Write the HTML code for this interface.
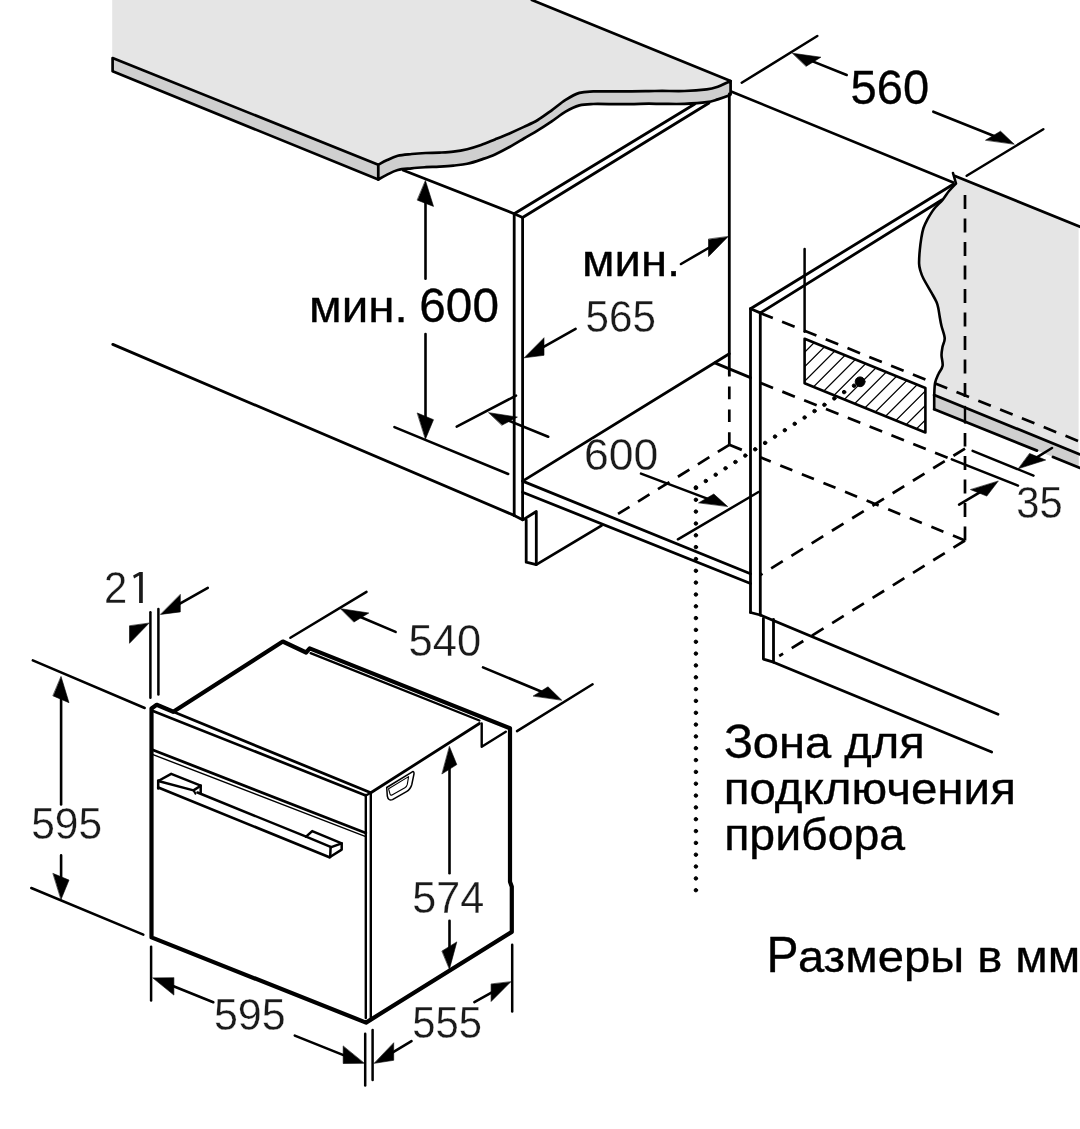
<!DOCTYPE html>
<html><head><meta charset="utf-8"><style>
html,body{margin:0;padding:0;background:#fff;width:1080px;height:1129px;overflow:hidden}
svg{display:block;filter:grayscale(100%)}
text{font-family:"Liberation Sans", sans-serif;fill:#000;stroke:#000;stroke-width:0.35px}
text.m{fill:#1a1a1a;stroke:#fff;stroke-width:0.3px;paint-order:fill}
</style></head><body>
<svg width="1080" height="1129" viewBox="0 0 1080 1129" stroke="#000" stroke-linecap="round" stroke-linejoin="round" fill="#000">
<path d="M112.2,0 L112.2,58 L378.3,164.7 C379.7,164 383.4,161.8 386.7,160.3 C389.9,158.8 393.6,156.9 397.8,155.8 C402,154.8 407.1,154.5 411.7,154 C416.3,153.5 421,153.2 425.6,153 C430.2,152.8 434.8,152.8 439.4,152.6 C444,152.4 448.7,152.3 453.3,151.7 C457.9,151.1 462.6,150.3 467.2,149.2 C471.8,148.1 476.5,146.6 481.1,145 C485.7,143.4 490.3,141.3 495,139.4 C499.7,137.5 504.7,135.5 509.5,133.4 C514.3,131.3 519.2,129.1 523.9,126.9 C528.6,124.7 533.2,122.8 537.8,120 C542.4,117.2 547.1,113.6 551.7,110.3 C556.3,107 561,102.8 565.6,99.9 C570.2,97 574.8,94.3 579.4,92.9 C584,91.5 586.3,91.7 593.3,91.4 C600.2,91.2 611.8,91.5 621.1,91.4 C630.4,91.4 642,91.2 648.9,91.1 C655.8,91 656.3,90.9 662.2,90.9 C668.1,90.9 677,91.2 684.4,91 C691.8,90.8 701.1,90.1 706.7,89.4 C712.3,88.7 714.3,87.9 717.8,86.7 C721.3,85.5 725.7,83.1 727.8,82.2 C729.9,81.3 730.1,81.3 730.6,81.1 L531.9,0 Z" fill="#e5e5e5" stroke="none"/>
<path d="M112.6,58 L378.3,164.7 L378.3,179.5 L112.6,71.3Z" stroke-width="2.7" fill="#cfcfcf" />
<path d="M378.3,164.7 C379.7,164 383.4,161.8 386.7,160.3 C389.9,158.8 393.6,156.9 397.8,155.8 C402,154.8 407.1,154.5 411.7,154 C416.3,153.5 421,153.2 425.6,153 C430.2,152.8 434.8,152.8 439.4,152.6 C444,152.4 448.7,152.3 453.3,151.7 C457.9,151.1 462.6,150.3 467.2,149.2 C471.8,148.1 476.5,146.6 481.1,145 C485.7,143.4 490.3,141.3 495,139.4 C499.7,137.5 504.7,135.5 509.5,133.4 C514.3,131.3 519.2,129.1 523.9,126.9 C528.6,124.7 533.2,122.8 537.8,120 C542.4,117.2 547.1,113.6 551.7,110.3 C556.3,107 561,102.8 565.6,99.9 C570.2,97 574.8,94.3 579.4,92.9 C584,91.5 586.3,91.7 593.3,91.4 C600.2,91.2 611.8,91.5 621.1,91.4 C630.4,91.4 642,91.2 648.9,91.1 C655.8,91 656.3,90.9 662.2,90.9 C668.1,90.9 677,91.2 684.4,91 C691.8,90.8 701.1,90.1 706.7,89.4 C712.3,88.7 714.3,87.9 717.8,86.7 C721.3,85.5 725.7,83.1 727.8,82.2 C729.9,81.3 730.1,81.3 730.6,81.1 L730.6,94.4 C730.3,94.6 731,94.8 728.9,95.6 C726.8,96.4 721.5,98.3 717.8,99.4 C714.1,100.5 712.3,101.5 706.7,102.2 C701.1,103 691.8,103.6 684.4,103.9 C677,104.2 668.1,103.9 662.2,103.9 C656.3,103.9 655.8,103.7 648.9,103.7 C642,103.8 630.4,104.2 621.1,104.2 C611.8,104.2 600.2,103.8 593.3,104 C586.3,104.2 584,104.1 579.4,105.4 C574.8,106.7 570.2,109 565.6,111.7 C561,114.4 556.3,118.3 551.7,121.4 C547.1,124.5 542.4,127.6 537.8,130.4 C533.2,133.2 528.6,135.7 523.9,138.5 C519.2,141.3 514.3,144.3 509.5,147 C504.7,149.7 499.7,152.3 495,154.4 C490.3,156.5 485.7,158 481.1,159.6 C476.5,161.2 471.8,162.8 467.2,163.8 C462.6,164.8 457.9,165.1 453.3,165.6 C448.7,166.1 444,166.4 439.4,166.7 C434.8,167 430.2,166.9 425.6,167.2 C421,167.5 416.3,167.8 411.7,168.3 C407.1,168.8 402,168.9 397.8,170 C393.6,171.1 389.9,173.3 386.7,174.9 C383.4,176.5 379.7,178.7 378.3,179.5 Z" fill="#cfcfcf" stroke-width="2.7" stroke-linejoin="round"/>
<line x1="531.9" y1="0" x2="730.6" y2="81" stroke-width="2.7" />
<line x1="403.3" y1="170.3" x2="514.2" y2="213.7" stroke-width="2.8" />
<path d="M514.2,213.7 L514.2,515.4" stroke-width="2.8" fill="none" />
<path d="M522.6,217.5 L522.6,519.8" stroke-width="2.8" fill="none" />
<line x1="514.2" y1="213.7" x2="522.6" y2="217.5" stroke-width="2.8" />
<line x1="514.2" y1="515.4" x2="522.6" y2="519.8" stroke-width="2.8" />
<line x1="514.2" y1="213.7" x2="694.8" y2="104" stroke-width="2.8" />
<line x1="522.6" y1="217.5" x2="709" y2="103" stroke-width="2.8" />
<line x1="729.3" y1="94" x2="729.3" y2="374.7" stroke-width="2.8" />
<line x1="729.3" y1="444.8" x2="729.3" y2="374.7" stroke-width="2.7" stroke-dasharray="12.6,10.2" stroke-dashoffset="0" stroke-linecap="butt"/>
<line x1="522.6" y1="481.1" x2="729.3" y2="353.8" stroke-width="2.8" />
<line x1="522.6" y1="481.1" x2="750.5" y2="573.8" stroke-width="2.8" />
<line x1="522.6" y1="492.2" x2="750.5" y2="583.5" stroke-width="2.8" />
<line x1="714.8" y1="362.9" x2="750.5" y2="377.6" stroke-width="2.8" />
<path d="M523.3,519.6 L536.3,511.5 L536.3,564.6 L526.2,562.2 L526.2,520" stroke-width="2.8" fill="none" />
<line x1="536.3" y1="564.6" x2="601.5" y2="525.6" stroke-width="2.8" />
<line x1="112.8" y1="344.4" x2="514.2" y2="515.4" stroke-width="2.8" />
<path d="M750.5,308.8 L750.5,612.5" stroke-width="2.8" fill="none" />
<path d="M760.3,312.9 L760.3,615" stroke-width="2.8" fill="none" />
<line x1="750.5" y1="308.8" x2="760.3" y2="312.9" stroke-width="2.8" />
<line x1="750.5" y1="308.8" x2="953.3" y2="184.2" stroke-width="2.8" />
<line x1="760.3" y1="312.9" x2="941.7" y2="200" stroke-width="2.8" />
<line x1="750.5" y1="612.5" x2="760.3" y2="615" stroke-width="2.8" />
<line x1="760.3" y1="615" x2="998" y2="714.2" stroke-width="2.8" />
<path d="M763.4,618.5 L763.4,659.1 L773.5,662.2 L773.5,619.5" stroke-width="2.8" fill="none" />
<line x1="773.5" y1="662.2" x2="991.7" y2="752" stroke-width="2.8" />
<line x1="804.6" y1="249" x2="804.6" y2="331.8" stroke-width="2.5" />
<clipPath id="hz"><path d="M804.6,338.75 L925.4,388 L925.4,432.5 L804.6,383.2Z"/></clipPath>
<path d="M615.3,440 L725.3,330 M629.8,440 L739.8,330 M644.3,440 L754.3,330 M658.8,440 L768.8,330 M673.3,440 L783.3,330 M687.8,440 L797.8,330 M702.3,440 L812.3,330 M716.8,440 L826.8,330 M731.3,440 L841.3,330 M745.8,440 L855.8,330 M760.3,440 L870.3,330 M774.8,440 L884.8,330 M789.3,440 L899.3,330 M803.8,440 L913.8,330 M818.3,440 L928.3,330 M832.8,440 L942.8,330 M847.3,440 L957.3,330 M861.8,440 L971.8,330 M876.3,440 L986.3,330 M890.8,440 L1000.8,330 M905.3,440 L1015.3,330 M919.8,440 L1029.8,330 M934.3,440 L1044.3,330 M948.8,440 L1058.8,330 M963.3,440 L1073.3,330 M977.8,440 L1087.8,330 M992.3,440 L1102.3,330 M1006.8,440 L1116.8,330" stroke-width="1.25" clip-path="url(#hz)"/>
<path d="M804.6,338.8 L925.4,388 L925.4,432.5 L804.6,383.2Z" stroke-width="2.6" fill="none" />
<circle cx="860.1" cy="381.8" r="4.9"/>
<path d="M953,173 L956,183.5 C954.8,184.8 951.2,188.3 949,191 C946.8,193.7 945.1,196.8 942.6,199.8 C940.1,202.8 936.5,205.8 934,209 C931.5,212.2 929.5,215.7 927.7,218.9 C926,222.1 924.6,224.8 923.5,228 C922.4,231.2 921.9,234.4 921.3,238.1 C920.7,241.8 920.2,245.8 919.8,250 C919.4,254.2 919,260.1 919.1,263.6 C919.2,267.1 919.8,268.5 920.5,271 C921.2,273.5 921.5,274.8 923.4,278.5 C925.3,282.2 929.7,289.5 931.9,293.4 C934.1,297.3 935.4,299.5 936.5,302 C937.6,304.5 937.8,306 938.3,308.3 C938.8,310.6 939.1,313.1 939.6,316 C940.1,318.9 940.6,322.3 941.5,326 C942.4,329.7 944.5,334.7 944.7,338.1 C944.9,341.5 943.1,343.8 942.6,346.6 C942.1,349.4 941.5,351.9 941.5,355.1 C941.5,358.3 943.1,362.5 942.6,365.7 C942.1,368.9 939.5,371.4 938.3,374.3 C937,377.2 935.8,379.4 935.1,382.8 C934.4,386.2 934.4,393 934.2,395 L934.2,409.2 L1078.6,467.3 L1078.6,226.1 L955,176 Z" fill="#e5e5e5" stroke="none"/>
<path d="M934.2,395 L1078.6,453.8 L1078.6,467.3 L934.2,409.2 Z" fill="#cfcfcf" stroke="none"/>
<path d="M953,173 L956,183.5 C954.8,184.8 951.2,188.3 949,191 C946.8,193.7 945.1,196.8 942.6,199.8 C940.1,202.8 936.5,205.8 934,209 C931.5,212.2 929.5,215.7 927.7,218.9 C926,222.1 924.6,224.8 923.5,228 C922.4,231.2 921.9,234.4 921.3,238.1 C920.7,241.8 920.2,245.8 919.8,250 C919.4,254.2 919,260.1 919.1,263.6 C919.2,267.1 919.8,268.5 920.5,271 C921.2,273.5 921.5,274.8 923.4,278.5 C925.3,282.2 929.7,289.5 931.9,293.4 C934.1,297.3 935.4,299.5 936.5,302 C937.6,304.5 937.8,306 938.3,308.3 C938.8,310.6 939.1,313.1 939.6,316 C940.1,318.9 940.6,322.3 941.5,326 C942.4,329.7 944.5,334.7 944.7,338.1 C944.9,341.5 943.1,343.8 942.6,346.6 C942.1,349.4 941.5,351.9 941.5,355.1 C941.5,358.3 943.1,362.5 942.6,365.7 C942.1,368.9 939.5,371.4 938.3,374.3 C937,377.2 935.8,379.4 935.1,382.8 C934.4,386.2 934.4,393 934.2,395" fill="none" stroke-width="2.6" stroke-linejoin="round"/>
<line x1="955" y1="176" x2="1080" y2="226.7" stroke-width="2.8" />
<line x1="934.2" y1="395" x2="1080" y2="454.4" stroke-width="2.8" />
<line x1="934.2" y1="395" x2="934.2" y2="409.2" stroke-width="2.6" />
<line x1="934.2" y1="409.2" x2="1037" y2="450.6" stroke-width="2.8" />
<line x1="1053" y1="457" x2="1080" y2="467.9" stroke-width="2.8" />
<line x1="965" y1="407" x2="965" y2="422.5" stroke-width="2.4" />
<line x1="760.3" y1="313" x2="1080" y2="441.7" stroke-width="2.7" stroke-dasharray="13.5,10" stroke-dashoffset="0" stroke-linecap="butt"/>
<line x1="760.5" y1="382.9" x2="951.8" y2="459.4" stroke-width="2.7" stroke-dasharray="13.5,10" stroke-dashoffset="0" stroke-linecap="butt"/>
<line x1="951.8" y1="459.4" x2="1018" y2="485.6" stroke-width="2.5" />
<line x1="729.3" y1="444.8" x2="750.5" y2="453.4" stroke-width="2.7" stroke-dasharray="13.5,10" stroke-dashoffset="0" stroke-linecap="butt"/>
<line x1="965" y1="540.5" x2="760.3" y2="457.3" stroke-width="2.7" stroke-dasharray="13,10.3" stroke-dashoffset="0" stroke-linecap="butt"/>
<line x1="729.3" y1="444.8" x2="618" y2="514" stroke-width="2.7" stroke-dasharray="13.5,10" stroke-dashoffset="0" stroke-linecap="butt"/>
<line x1="965" y1="448.6" x2="760.3" y2="575" stroke-width="2.7" stroke-dasharray="13.6,10.2" stroke-dashoffset="0" stroke-linecap="butt"/>
<line x1="965" y1="540.5" x2="779.2" y2="656" stroke-width="2.7" stroke-dasharray="13.6,10.2" stroke-dashoffset="0" stroke-linecap="butt"/>
<line x1="965" y1="195" x2="965" y2="405" stroke-width="2.7" stroke-dasharray="14,9.5" stroke-dashoffset="0" stroke-linecap="butt"/>
<line x1="965" y1="540.5" x2="965" y2="433" stroke-width="2.7" stroke-dasharray="14,9.5" stroke-dashoffset="0" stroke-linecap="butt"/>
<circle cx="695.9" cy="890.2" r="1.75"/>
<circle cx="695.9" cy="878.4" r="1.75"/>
<circle cx="695.9" cy="866.5" r="1.75"/>
<circle cx="695.9" cy="854.7" r="1.75"/>
<circle cx="695.9" cy="842.9" r="1.75"/>
<circle cx="695.9" cy="831.1" r="1.75"/>
<circle cx="695.9" cy="819.2" r="1.75"/>
<circle cx="695.9" cy="807.4" r="1.75"/>
<circle cx="695.9" cy="795.6" r="1.75"/>
<circle cx="695.9" cy="783.7" r="1.75"/>
<circle cx="695.9" cy="771.9" r="1.75"/>
<circle cx="695.9" cy="760.1" r="1.75"/>
<circle cx="695.9" cy="748.2" r="1.75"/>
<circle cx="695.9" cy="736.4" r="1.75"/>
<circle cx="695.9" cy="724.6" r="1.75"/>
<circle cx="695.9" cy="712.8" r="1.75"/>
<circle cx="695.9" cy="700.9" r="1.75"/>
<circle cx="695.9" cy="689.1" r="1.75"/>
<circle cx="695.9" cy="677.3" r="1.75"/>
<circle cx="695.9" cy="665.4" r="1.75"/>
<circle cx="695.9" cy="653.6" r="1.75"/>
<circle cx="695.9" cy="641.8" r="1.75"/>
<circle cx="695.9" cy="629.9" r="1.75"/>
<circle cx="695.9" cy="618.1" r="1.75"/>
<circle cx="695.9" cy="606.3" r="1.75"/>
<circle cx="695.9" cy="594.5" r="1.75"/>
<circle cx="695.9" cy="582.6" r="1.75"/>
<circle cx="695.9" cy="570.8" r="1.75"/>
<circle cx="695.9" cy="559" r="1.75"/>
<circle cx="695.9" cy="547.1" r="1.75"/>
<circle cx="695.9" cy="535.3" r="1.75"/>
<circle cx="695.9" cy="523.5" r="1.75"/>
<circle cx="695.9" cy="511.6" r="1.75"/>
<circle cx="695.9" cy="499.8" r="1.75"/>
<circle cx="695.9" cy="488" r="1.75"/>
<circle cx="695.9" cy="487.4" r="1.75"/>
<circle cx="705.8" cy="481" r="1.75"/>
<circle cx="715.7" cy="474.7" r="1.75"/>
<circle cx="725.5" cy="468.3" r="1.75"/>
<circle cx="735.4" cy="462" r="1.75"/>
<circle cx="745.3" cy="455.6" r="1.75"/>
<circle cx="755.2" cy="449.3" r="1.75"/>
<circle cx="765.1" cy="442.9" r="1.75"/>
<circle cx="775" cy="436.6" r="1.75"/>
<circle cx="784.8" cy="430.2" r="1.75"/>
<circle cx="794.7" cy="423.8" r="1.75"/>
<circle cx="804.6" cy="417.5" r="1.75"/>
<circle cx="814.5" cy="411.1" r="1.75"/>
<circle cx="824.4" cy="404.8" r="1.75"/>
<circle cx="834.3" cy="398.4" r="1.75"/>
<circle cx="844.1" cy="392.1" r="1.75"/>
<circle cx="854" cy="385.7" r="1.75"/>
<line x1="425.5" y1="278.7" x2="425.5" y2="200.3" stroke-width="2.6" />
<path d="M425.5,180.8 L433.5,206.4 L417.5,200.2Z" fill="#000" stroke="#000" stroke-width="0.6" stroke-linejoin="miter"/>
<line x1="425.5" y1="334" x2="425.5" y2="419.4" stroke-width="2.6" />
<path d="M425.5,438.9 L433.5,419.7 L417.5,413.1Z" fill="#000" stroke="#000" stroke-width="0.6" stroke-linejoin="miter"/>
<line x1="394.4" y1="427.1" x2="508.2" y2="474" stroke-width="2.5" />
<line x1="681" y1="264" x2="711.1" y2="246.5" stroke-width="2.6" />
<path d="M728,236.7 L708.5,256.6 L708.5,239.4Z" fill="#000" stroke="#000" stroke-width="0.6" stroke-linejoin="miter"/>
<line x1="575.6" y1="328.9" x2="541.4" y2="348.2" stroke-width="2.6" />
<path d="M524.4,357.8 L544,355.3 L544,338.1Z" fill="#000" stroke="#000" stroke-width="0.6" stroke-linejoin="miter"/>
<line x1="456.7" y1="426.7" x2="516" y2="395.6" stroke-width="2.5" />
<line x1="548.2" y1="436.7" x2="507" y2="420" stroke-width="2.6" />
<path d="M488.9,412.7 L517.4,417.1 L502.1,425.1Z" fill="#000" stroke="#000" stroke-width="0.6" stroke-linejoin="miter"/>
<line x1="641" y1="473.6" x2="709.2" y2="499.4" stroke-width="2.6" />
<path d="M727.4,506.3 L713.8,494 L698.9,502.7Z" fill="#000" stroke="#000" stroke-width="0.6" stroke-linejoin="miter"/>
<line x1="677.9" y1="539.3" x2="758.5" y2="492" stroke-width="2.5" />
<line x1="741.7" y1="82.7" x2="817.3" y2="36" stroke-width="2.5" />
<line x1="966.7" y1="175.8" x2="1043.3" y2="129.2" stroke-width="2.5" />
<line x1="846.7" y1="75" x2="810.8" y2="60.6" stroke-width="2.6" />
<path d="M792.7,53.3 L820.9,57.2 L806.3,66.2Z" fill="#000" stroke="#000" stroke-width="0.6" stroke-linejoin="miter"/>
<line x1="933.3" y1="111.7" x2="995.9" y2="136.8" stroke-width="2.6" />
<path d="M1014,144 L1000.5,131.2 L985.8,140.1Z" fill="#000" stroke="#000" stroke-width="0.6" stroke-linejoin="miter"/>
<line x1="731.7" y1="91.7" x2="953.3" y2="182.5" stroke-width="2.6" />
<line x1="972.6" y1="450.9" x2="1033.5" y2="475.6" stroke-width="2.5" />
<line x1="1052" y1="448" x2="1035.2" y2="458.4" stroke-width="2.6" />
<path d="M1018.6,468.6 L1045.7,460 L1029.8,453.6Z" fill="#000" stroke="#000" stroke-width="0.6" stroke-linejoin="miter"/>
<line x1="959.1" y1="504.7" x2="981.4" y2="491.3" stroke-width="2.6" />
<path d="M998.1,481.3 L986.8,496.1 L970.8,489.7Z" fill="#000" stroke="#000" stroke-width="0.6" stroke-linejoin="miter"/>
<path d="M151.5,937.4 L151.5,708.5 L156.7,704.8 L173.3,711.8 L282.8,641.5 L306.1,652.5 L309.7,648.4 L510,728.3 L510,881.7 L511.8,886.7 L511.8,931.9 L366,1022.6 L151.5,937.4Z" stroke-width="4.2" fill="none" stroke-linejoin="round"/>
<line x1="173.3" y1="711.8" x2="370.8" y2="792.8" stroke-width="2.8" />
<line x1="310.6" y1="653.1" x2="479.4" y2="720.5" stroke-width="2.3" />
<line x1="370.8" y1="792.8" x2="479.4" y2="723.5" stroke-width="2.8" />
<path d="M481.7,723.5 L481.7,746.7 L505.8,731.7" stroke-width="2.4" fill="none" />
<line x1="153" y1="711" x2="365.8" y2="795.4" stroke-width="2.7" />
<line x1="365.8" y1="795.4" x2="370.8" y2="792.8" stroke-width="2.2" />
<line x1="365.8" y1="795" x2="365.8" y2="1018" stroke-width="2.4" />
<line x1="370.8" y1="792.8" x2="370.8" y2="1020" stroke-width="2.4" />
<line x1="153" y1="750" x2="365.8" y2="833" stroke-width="2.8" />
<line x1="153" y1="754.6" x2="365.8" y2="836.6" stroke-width="1.4" />
<path d="M158.2,781 L171.2,773.8 L200.7,785.7 L193.5,790.4 L158.2,781" stroke-width="2.5" fill="none" stroke-linejoin="round"/>
<line x1="158.2" y1="780.5" x2="158.2" y2="788.5" stroke-width="2.5" />
<line x1="200.7" y1="785.5" x2="200.7" y2="792.6" stroke-width="2.5" />
<line x1="193.5" y1="790.4" x2="195.5" y2="793.6" stroke-width="2.0" />
<line x1="158.3" y1="787.6" x2="329.4" y2="857.2" stroke-width="2.7" />
<line x1="197.5" y1="792.5" x2="306.1" y2="836.7" stroke-width="2.5" />
<path d="M306.1,836.7 L312.2,831.1 L341.7,843.3 L341.7,849.6 L329.6,857.2" stroke-width="2.5" fill="none" stroke-linejoin="round"/>
<line x1="306.1" y1="836.7" x2="331.2" y2="847.2" stroke-width="2.5" />
<line x1="331.2" y1="847.2" x2="341.7" y2="843.3" stroke-width="2.5" />
<line x1="330.6" y1="847" x2="330.2" y2="857" stroke-width="2.5" />
<path d="M386.7,787.5 L412.3,771.8 Q414.2,771 414,773.8 L411.8,784.5 Q410.6,789.2 406.5,791.6 L392.5,799.6 Q388.3,801.2 387.3,796 Z" fill="none" stroke-width="1.5" stroke-linejoin="round"/>
<path d="M388.6,788.8 L408.6,776.6 L407.3,784.4 Q406.8,786.6 404.9,787.7 L392,795 Q390.4,795.7 389.9,793.6 Z" fill="none" stroke-width="1.1" stroke-linejoin="round"/>
<line x1="150.4" y1="612.2" x2="150.4" y2="697.8" stroke-width="2.5" />
<line x1="158.4" y1="608.9" x2="158.4" y2="694.4" stroke-width="2.5" />
<line x1="207.8" y1="587.8" x2="177.7" y2="604.8" stroke-width="2.6" />
<path d="M160.7,614.4 L180.3,611.9 L180.3,594.7Z" fill="#000" stroke="#000" stroke-width="0.6" stroke-linejoin="miter"/>
<path d="M148.9,623.3 L129.5,643.3 L129.5,626.1Z" fill="#000" stroke="#000" stroke-width="0.6" stroke-linejoin="miter"/>
<line x1="32.8" y1="660.4" x2="144.7" y2="708" stroke-width="2.5" />
<line x1="31.3" y1="888" x2="143.3" y2="934.7" stroke-width="2.5" />
<line x1="61.1" y1="804.4" x2="61.1" y2="696.3" stroke-width="2.6" />
<path d="M61.1,676.8 L69,702.7 L53.2,695.9Z" fill="#000" stroke="#000" stroke-width="0.6" stroke-linejoin="miter"/>
<line x1="61.1" y1="855.4" x2="61.1" y2="879.8" stroke-width="2.6" />
<path d="M61.1,899.3 L69,880.1 L53.2,873.5Z" fill="#000" stroke="#000" stroke-width="0.6" stroke-linejoin="miter"/>
<line x1="290.4" y1="637.8" x2="366.5" y2="591.9" stroke-width="2.5" />
<line x1="517" y1="731.1" x2="592.6" y2="684.3" stroke-width="2.5" />
<line x1="395.6" y1="631.9" x2="358.7" y2="616.3" stroke-width="2.6" />
<path d="M340.7,608.7 L368.8,613 L354.1,621.9Z" fill="#000" stroke="#000" stroke-width="0.6" stroke-linejoin="miter"/>
<line x1="483" y1="667.4" x2="543.5" y2="692.5" stroke-width="2.6" />
<path d="M561.5,700 L548,686.8 L533.4,695.9Z" fill="#000" stroke="#000" stroke-width="0.6" stroke-linejoin="miter"/>
<line x1="449.5" y1="873.3" x2="449.5" y2="766.2" stroke-width="2.6" />
<path d="M449.5,746.7 L456.8,764.6 L442.2,773.8Z" fill="#000" stroke="#000" stroke-width="0.6" stroke-linejoin="miter"/>
<line x1="449.5" y1="920.7" x2="449.5" y2="949.4" stroke-width="2.6" />
<path d="M449.5,968.9 L456.8,941.9 L442.2,950.9Z" fill="#000" stroke="#000" stroke-width="0.6" stroke-linejoin="miter"/>
<line x1="151.1" y1="946.7" x2="151.1" y2="1000.4" stroke-width="2.5" />
<line x1="365.2" y1="1033.7" x2="365.2" y2="1085.6" stroke-width="2.5" />
<line x1="213.3" y1="1002.2" x2="171.1" y2="985.3" stroke-width="2.6" />
<path d="M153,978.1 L173.9,995.1 L173.9,977.9Z" fill="#000" stroke="#000" stroke-width="0.6" stroke-linejoin="miter"/>
<line x1="294.8" y1="1035.6" x2="346" y2="1056.1" stroke-width="2.6" />
<path d="M364.1,1063.3 L343.2,1063.5 L343.2,1046.3Z" fill="#000" stroke="#000" stroke-width="0.6" stroke-linejoin="miter"/>
<line x1="372.6" y1="1030" x2="372.6" y2="1080" stroke-width="2.5" />
<line x1="512.2" y1="944.8" x2="512.2" y2="1011.5" stroke-width="2.5" />
<line x1="411.5" y1="1041.1" x2="391.1" y2="1053.3" stroke-width="2.6" />
<path d="M374.4,1063.3 L393.7,1060.3 L393.7,1043.1Z" fill="#000" stroke="#000" stroke-width="0.6" stroke-linejoin="miter"/>
<line x1="474.4" y1="1002.2" x2="493.7" y2="991.4" stroke-width="2.6" />
<path d="M510.7,981.9 L491.1,1001.5 L491.1,984.3Z" fill="#000" stroke="#000" stroke-width="0.6" stroke-linejoin="miter"/>
<text x="309.1" y="322.2" font-size="45.2" text-anchor="start" textLength="98.59" lengthAdjust="spacingAndGlyphs">мин.</text>
<text x="419.3" y="322.3" font-size="48.87" text-anchor="start" textLength="79.63" lengthAdjust="spacingAndGlyphs">600</text>
<text x="582.1" y="275.7" font-size="45.2" text-anchor="start" textLength="98.16" lengthAdjust="spacingAndGlyphs">мин.</text>
<text x="585.5" y="332.1" font-size="44.08" text-anchor="start" textLength="70.42" lengthAdjust="spacingAndGlyphs" class="m">565</text>
<text x="583.9" y="470" font-size="44.65" text-anchor="start" textLength="74.35" lengthAdjust="spacingAndGlyphs" class="m">600</text>
<text x="850.5" y="104.1" font-size="48.31" text-anchor="start" textLength="78.6" lengthAdjust="spacingAndGlyphs">560</text>
<text x="1016.3" y="518.2" font-size="44.08" text-anchor="start" textLength="46.44" lengthAdjust="spacingAndGlyphs" class="m">35</text>
<text x="103.9" y="603.2" font-size="44.86" text-anchor="start" textLength="23.22" lengthAdjust="spacingAndGlyphs" class="m">2</text>
<path d="M142.8,571.9 L139.6,571.9 L133.1,575.6 L134.1,578.4 L139.1,575.4 L139.1,603 L142.8,603 Z" fill="#1a1a1a" stroke="none"/>
<text x="408.6" y="656.2" font-size="44.93" text-anchor="start" textLength="72.52" lengthAdjust="spacingAndGlyphs" class="m">540</text>
<text x="31.2" y="838.6" font-size="44.37" text-anchor="start" textLength="70.94" lengthAdjust="spacingAndGlyphs" class="m">595</text>
<text x="412.3" y="913.2" font-size="43.57" text-anchor="start" textLength="71.96" lengthAdjust="spacingAndGlyphs" class="m">574</text>
<text x="213.9" y="1030.2" font-size="44.08" text-anchor="start" textLength="71.78" lengthAdjust="spacingAndGlyphs" class="m">595</text>
<text x="412.3" y="1037.6" font-size="44.71" text-anchor="start" textLength="69.79" lengthAdjust="spacingAndGlyphs" class="m">555</text>
<text x="724.1" y="758" font-size="48.87" text-anchor="start" textLength="29.14" lengthAdjust="spacingAndGlyphs">З</text>
<text x="752.8" y="758.1" font-size="45" text-anchor="start" textLength="171.92" lengthAdjust="spacingAndGlyphs">она для</text>
<text x="723.7" y="803.8" font-size="45" text-anchor="start" textLength="292.21" lengthAdjust="spacingAndGlyphs">подключения</text>
<text x="724.2" y="850.4" font-size="45" text-anchor="start" textLength="180.93" lengthAdjust="spacingAndGlyphs">прибора</text>
<text x="766.4" y="972.1" font-size="49.28" text-anchor="start" textLength="31.97" lengthAdjust="spacingAndGlyphs">Р</text>
<text x="797.9" y="971.9" font-size="45" text-anchor="start" textLength="282.3" lengthAdjust="spacingAndGlyphs">азмеры в мм</text>
</svg>
</body></html>
